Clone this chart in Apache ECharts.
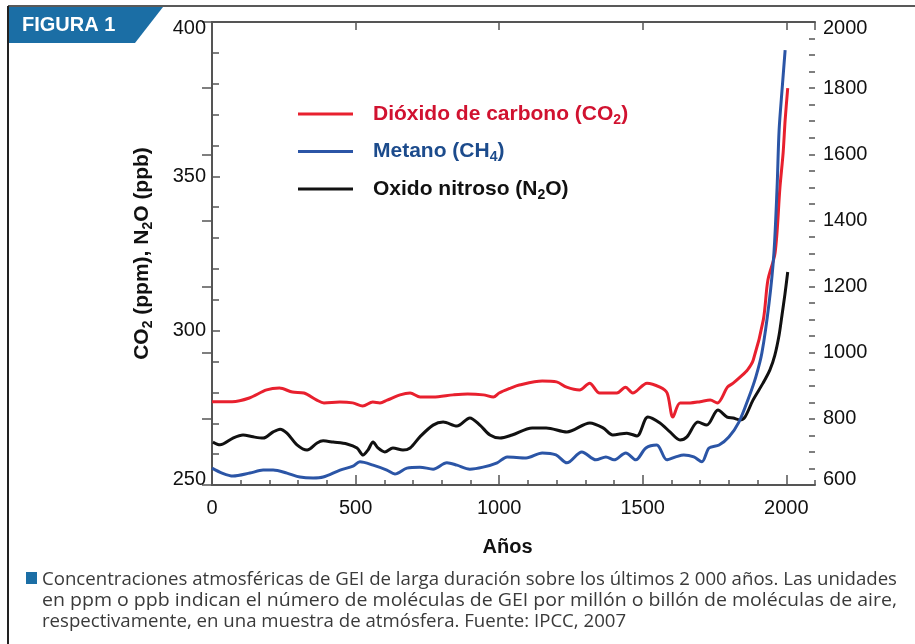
<!DOCTYPE html>
<html>
<head>
<meta charset="utf-8">
<script src="https://cdn.jsdelivr.net/npm/echarts@6/dist/echarts.min.js"></script>
<style>
  html, body { margin: 0; padding: 0; background: #fff; }
  #chart { width: 915px; height: 644px; }
</style>
</head>
<body>
<div id="chart"></div>
<script>
// Dióxido de carbono (ppm), eje izquierdo
const co2Years = [0, 70, 130, 190, 235, 280, 320, 365, 390, 445, 490, 525, 560, 585, 610, 655, 690, 725, 770, 840, 890, 945, 980, 1000, 1040, 1070, 1150, 1200, 1235, 1280, 1315, 1350, 1410, 1440, 1465, 1515, 1560, 1585, 1605, 1630, 1665, 1700, 1735, 1760, 1795, 1815, 1840, 1865, 1885, 1920, 1936, 1961, 1978, 1989, 1996, 2005];
const co2Values = [277.0, 277.0, 278.2, 280.8, 281.4, 280.1, 279.8, 277.5, 276.6, 276.9, 276.6, 275.6, 276.9, 276.6, 277.5, 279.2, 279.8, 278.5, 278.5, 279.2, 279.5, 279.2, 278.5, 279.8, 281.4, 282.4, 283.7, 283.4, 281.7, 280.8, 283.0, 279.8, 279.8, 281.7, 279.8, 283.0, 281.7, 279.8, 272.0, 276.6, 276.6, 277.0, 277.5, 276.6, 281.7, 283.0, 285.0, 287.3, 290.5, 303.5, 316.4, 325.2, 346.5, 357.6, 368.2, 378.6];

// Metano (ppb), eje derecho
const ch4Years = [0, 35, 73, 132, 178, 213, 261, 306, 352, 387, 446, 491, 515, 561, 609, 637, 679, 724, 770, 818, 853, 898, 944, 993, 1028, 1094, 1150, 1198, 1236, 1288, 1337, 1372, 1400, 1441, 1476, 1511, 1549, 1584, 1615, 1643, 1678, 1706, 1731, 1766, 1800, 1835, 1870, 1894, 1915, 1940, 1957, 1968, 1975, 1986, 1996];
const ch4Values = [651, 636, 627, 636, 645, 645, 636, 624, 621, 624, 645, 657, 670, 660, 645, 633, 651, 654, 648, 667, 660, 648, 654, 667, 685, 682, 697, 691, 667, 700, 676, 685, 676, 697, 676, 712, 721, 676, 685, 691, 685, 670, 712, 721, 745, 790, 866, 927, 999, 1150, 1302, 1501, 1673, 1803, 1915];

// Óxido nitroso (ppb), eje izquierdo
const n2oYears = [3, 28, 73, 108, 143, 178, 213, 237, 261, 296, 331, 366, 387, 422, 470, 505, 526, 543, 561, 578, 602, 630, 665, 690, 724, 770, 805, 853, 898, 933, 968, 1003, 1045, 1115, 1164, 1236, 1316, 1362, 1396, 1445, 1480, 1518, 1560, 1595, 1630, 1654, 1692, 1723, 1762, 1794, 1815, 1839, 1856, 1884, 1919, 1943, 1960, 1975, 1985, 1995, 2005];
const n2oValues = [263.9, 263.0, 265.2, 266.2, 265.6, 265.2, 267.2, 268.1, 266.8, 263.0, 261.3, 263.6, 264.3, 263.9, 263.3, 262.0, 259.7, 261.3, 263.9, 262.0, 260.7, 262.0, 261.3, 262.0, 265.6, 269.4, 270.4, 269.1, 271.7, 269.4, 266.2, 265.2, 266.2, 268.5, 268.5, 267.2, 270.1, 268.5, 266.2, 266.8, 265.9, 272.0, 270.1, 267.2, 264.6, 265.6, 270.4, 269.4, 274.3, 272.0, 271.7, 271.1, 272.0, 277.5, 283.0, 287.3, 292.0, 298.6, 305.0, 311.6, 319.0];

const seriesNames = ['Dióxido de carbono (CO2)', 'Metano (CH4)', 'Oxido nitroso (N2O)'];
const legendRich = {
  'Dióxido de carbono (CO2)': '{t|Dióxido de carbono (CO}{s|2}{t|)}',
  'Metano (CH4)': '{t|Metano (CH}{s|4}{t|)}',
  'Oxido nitroso (N2O)': '{t|Oxido nitroso (N}{s|2}{t|O)}'
};
const xTicks = { min: 0, max: 2100, major: 500, minor: 100 };
const leftTicks = { min: 250, max: 400, major: 50, minor: 10 };
const rightTicks = { min: 600, max: 2000, major: 200, minor: 50 };

const caption = [
  'Concentraciones atmosféricas de GEI de larga duración sobre los últimos 2 000 años. Las unidades',
  'en ppm o ppb indican el número de moléculas de GEI por millón o billón de moléculas de aire,',
  'respectivamente, en una muestra de atmósfera. Fuente: IPCC, 2007'
];

function pairs(xs, ys) { return xs.map((x, i) => [x, ys[i]]); }

const FONT = "'Liberation Sans', Arial, sans-serif";
const CAPTION_FONT = "17.5px 'Open Sans', sans-serif";
const AXIS_COLOR = '#555';
const RED = '#e8202e', BLUE = '#2b55a6', BLACK = '#111';
const TAB = '#1b6ea5';

// caption lines are set justified to a common width
const CAPTION_WIDTH = 855;
const measureCtx = document.createElement('canvas').getContext('2d');
measureCtx.font = CAPTION_FONT;
const captionScale = caption.map(t => CAPTION_WIDTH / measureCtx.measureText(t).width);
captionScale[2] = captionScale[0];

const chart = echarts.init(document.getElementById('chart'), null, { renderer: 'canvas' });

const plainNumber = (v) => String(v);
const tickStyle = { color: AXIS_COLOR, width: 1.5 };
const axisBase = {
  type: 'value',
  axisLine: { show: true, lineStyle: { color: AXIS_COLOR, width: 2 } },
  splitLine: { show: false },
  axisLabel: { color: '#111', fontSize: 20, fontFamily: FONT, formatter: plainNumber }
};
const yLabel = Object.assign({}, axisBase.axisLabel, {
  lineHeight: 12,
  verticalAlignMinLabel: 'bottom',
  verticalAlignMaxLabel: 'top'
});
// tick-only companion axis (minor divisions)
function tickAxis(position, min, max, interval, length) {
  return {
    type: 'value', position, min, max, interval,
    axisLine: { show: false },
    splitLine: { show: false },
    axisLabel: { show: false },
    axisTick: { show: true, inside: true, length, lineStyle: tickStyle }
  };
}

chart.setOption({
  animation: false,
  textStyle: { fontFamily: FONT },
  grid: { left: 212, right: 100, top: 22, bottom: 159 },
  legend: {
    orient: 'vertical',
    left: 298,
    top: 101,
    padding: 0,
    itemWidth: 55,
    itemHeight: 12,
    itemGap: 11.5,
    icon: 'path://M0,5 L55,5 L55,8 L0,8 Z',
    selectedMode: false,
    formatter: (name) => legendRich[name],
    textStyle: {
      fontSize: 21, fontWeight: 'bold', fontFamily: FONT, padding: [0, 0, 0, 15],
      rich: {
        t: { fontSize: 21, fontWeight: 'bold', fontFamily: FONT, lineHeight: 24 },
        s: { fontSize: 14, fontWeight: 'bold', fontFamily: FONT, lineHeight: 24, padding: [12, 0, 0, 0] }
      }
    },
    data: [
      { name: seriesNames[0], textStyle: { color: '#d11230' }, itemStyle: { color: RED } },
      { name: seriesNames[1], textStyle: { color: '#1c4b8c' }, itemStyle: { color: BLUE } },
      { name: seriesNames[2], textStyle: { color: '#111' }, itemStyle: { color: BLACK } }
    ]
  },
  xAxis: [
    Object.assign({}, axisBase, {
      position: 'bottom',
      min: xTicks.min, max: xTicks.max, interval: xTicks.major,
      axisTick: { inside: true, length: 10, lineStyle: tickStyle },
      axisLabel: Object.assign({}, axisBase.axisLabel, { margin: 13, showMaxLabel: false }),
      name: 'Años',
      nameLocation: 'middle',
      nameGap: 52,
      nameTextStyle: { fontSize: 20, fontWeight: 'bold', color: '#111', fontFamily: FONT, padding: [0, 12, 0, 0] }
    }),
    tickAxis('bottom', xTicks.min, xTicks.max, xTicks.minor, 5),
    Object.assign({}, axisBase, {
      position: 'top',
      min: xTicks.min, max: xTicks.max, interval: xTicks.major,
      axisTick: { inside: true, length: 8, lineStyle: tickStyle },
      axisLabel: { show: false }
    })
  ],
  yAxis: [
    Object.assign({}, axisBase, {
      position: 'left',
      min: leftTicks.min, max: leftTicks.max, interval: leftTicks.major,
      axisTick: { inside: true, length: 8, lineStyle: tickStyle },
      axisLabel: Object.assign({}, yLabel, { margin: 6 }),
      name: '{b|CO}{s|2}{b| (ppm), N}{s|2}{b|O (ppb)}',
      nameLocation: 'middle',
      nameGap: 58,
      nameTextStyle: {
        color: '#111',
        rich: {
          b: { fontSize: 21, fontWeight: 'bold', fontFamily: FONT, color: '#111', lineHeight: 24 },
          s: { fontSize: 14, fontWeight: 'bold', fontFamily: FONT, color: '#111', lineHeight: 24, padding: [12, 0, 0, 0] }
        }
      }
    }),
    Object.assign({}, axisBase, {
      position: 'right',
      min: rightTicks.min, max: rightTicks.max, interval: rightTicks.major,
      axisTick: { inside: true, length: 10, lineStyle: tickStyle },
      axisLabel: Object.assign({}, yLabel, { margin: 8 })
    }),
    tickAxis('left', leftTicks.min, leftTicks.max, leftTicks.minor, 7),
    tickAxis('right', rightTicks.min, rightTicks.max, rightTicks.minor, 6)
  ],
  series: [
    {
      name: seriesNames[2], type: 'line', xAxisIndex: 0, yAxisIndex: 0,
      data: pairs(n2oYears, n2oValues), symbol: 'none', smooth: 0.3,
      lineStyle: { color: BLACK, width: 3 }, itemStyle: { color: BLACK }, z: 3
    },
    {
      name: seriesNames[0], type: 'line', xAxisIndex: 0, yAxisIndex: 0,
      data: pairs(co2Years, co2Values), symbol: 'none', smooth: 0.3,
      lineStyle: { color: RED, width: 3 }, itemStyle: { color: RED }, z: 4
    },
    {
      name: seriesNames[1], type: 'line', xAxisIndex: 0, yAxisIndex: 1,
      data: pairs(ch4Years, ch4Values), symbol: 'none', smooth: 0.3,
      lineStyle: { color: BLUE, width: 3 }, itemStyle: { color: BLUE }, z: 5
    }
  ],
  graphic: [
    // page frame
    { type: 'line', shape: { x1: 8, y1: 6, x2: 915, y2: 6 }, style: { stroke: '#222', lineWidth: 1.5 }, silent: true },
    { type: 'line', shape: { x1: 8, y1: 6, x2: 8, y2: 644 }, style: { stroke: '#222', lineWidth: 2 }, silent: true },
    // title tab
    { type: 'polygon', shape: { points: [[9, 7], [163, 7], [135, 43], [9, 43]] }, style: { fill: TAB }, silent: true },
    { type: 'text', x: 22, y: 25, style: { text: 'FIGURA 1', fill: '#fff', font: "bold 20px 'Liberation Sans', Arial, sans-serif", verticalAlign: 'middle' }, silent: true },
    // caption
    { type: 'rect', shape: { x: 26, y: 572, width: 11, height: 12 }, style: { fill: TAB }, silent: true },
    { type: 'text', x: 42, y: 580, scaleX: captionScale[0], style: { text: caption[0], fill: '#3a3a3a', font: CAPTION_FONT, verticalAlign: 'middle' }, silent: true },
    { type: 'text', x: 42, y: 601, scaleX: captionScale[1], style: { text: caption[1], fill: '#3a3a3a', font: CAPTION_FONT, verticalAlign: 'middle' }, silent: true },
    { type: 'text', x: 42, y: 622, scaleX: captionScale[2], style: { text: caption[2], fill: '#3a3a3a', font: CAPTION_FONT, verticalAlign: 'middle' }, silent: true }
  ]
});
</script>
</body>
</html>
